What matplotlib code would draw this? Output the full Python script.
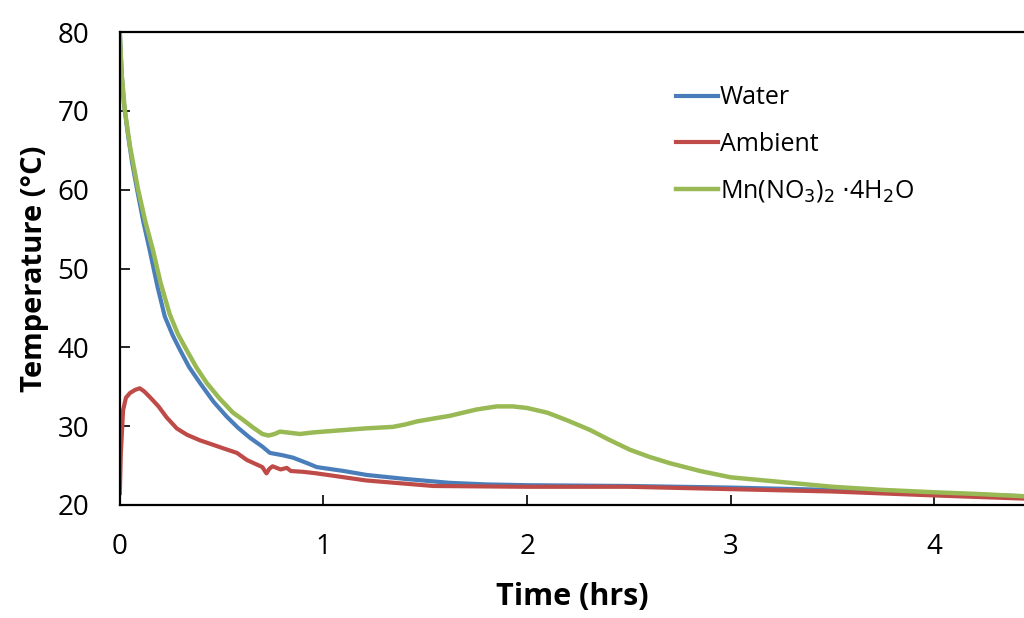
import matplotlib
matplotlib.use("Agg")
import matplotlib.pyplot as plt

plt.rcParams.update({"font.family": ["Open Sans", "DejaVu Sans"], "font.size": 18})

BLUE, RED, GREEN = "#4A7EBB", "#BE4B48", "#98B954"

# cooling curves, temperature (°C) against time (hrs)
water_t = [0.0, 0.01, 0.02, 0.04, 0.06, 0.085, 0.115, 0.147, 0.185, 0.221, 0.26,
           0.295, 0.34, 0.393, 0.46, 0.525, 0.58, 0.64, 0.70, 0.737, 0.80, 0.85,
           0.92, 0.967, 1.1, 1.213, 1.4, 1.62, 1.8, 2.0, 2.5, 3.0, 3.5, 4.0, 4.44]
water_T = [80.0, 74.5, 71.0, 67.0, 63.5, 60.0, 56.0, 52.3, 47.7, 43.9, 41.5,
           39.7, 37.5, 35.5, 33.1, 31.2, 29.8, 28.5, 27.4, 26.6, 26.3, 26.0,
           25.3, 24.8, 24.3, 23.8, 23.3, 22.8, 22.6, 22.5, 22.4, 22.2, 21.9, 21.5, 21.1]

ambient_t = [0.0, 0.005, 0.016, 0.03, 0.05, 0.075, 0.098, 0.12, 0.147, 0.19, 0.23, 0.28,
             0.33, 0.393, 0.45, 0.506, 0.575, 0.624, 0.70, 0.72, 0.735, 0.75, 0.79,
             0.82, 0.84, 0.90, 0.967, 1.21, 1.54, 2.0, 2.5, 3.0, 3.5, 4.0, 4.44]
ambient_T = [21.5, 26.5, 32.0, 33.6, 34.2, 34.6, 34.8, 34.4, 33.7, 32.5, 31.1, 29.7,
             28.9, 28.2, 27.7, 27.2, 26.6, 25.7, 24.8, 24.0, 24.6, 24.9, 24.5,
             24.7, 24.3, 24.2, 24.0, 23.1, 22.4, 22.3, 22.3, 22.0, 21.7, 21.2, 20.8]

salt_t = [0.0, 0.008, 0.025, 0.05, 0.09, 0.125, 0.163, 0.2, 0.245, 0.285, 0.327,
          0.375, 0.426, 0.49, 0.556, 0.6, 0.65, 0.70, 0.73, 0.76, 0.786, 0.82,
          0.884, 0.95, 1.05, 1.2, 1.34, 1.40, 1.46, 1.55, 1.62, 1.685, 1.75, 1.85,
          1.93, 2.0, 2.1, 2.2, 2.31, 2.4, 2.505, 2.6, 2.7, 2.85, 3.0, 3.25, 3.5,
          3.75, 4.0, 4.2, 4.44]
salt_T = [80.0, 75.0, 70.0, 65.5, 60.0, 56.0, 52.3, 48.2, 44.2, 41.7, 39.7,
          37.5, 35.5, 33.5, 31.7, 30.9, 29.9, 29.0, 28.8, 29.0, 29.3, 29.2,
          29.0, 29.2, 29.4, 29.7, 29.9, 30.2, 30.6, 31.0, 31.3, 31.7, 32.1, 32.5,
          32.5, 32.3, 31.7, 30.7, 29.5, 28.3, 27.0, 26.1, 25.3, 24.3, 23.5, 22.9, 22.3,
          21.9, 21.6, 21.4, 21.1]

fig = plt.figure(figsize=(10.24, 6.18), dpi=100)
ax = fig.add_axes([0.117, 0.183, 0.883, 0.765])
ax.plot(water_t, water_T, color=BLUE, lw=3, label="Water")
ax.plot(ambient_t, ambient_T, color=RED, lw=3, label="Ambient")
ax.plot(salt_t, salt_T, color=GREEN, lw=3.2, label=r"Mn(NO$_3$)$_2$ $\cdot$4H$_2$O")

ax.set_xlim(0, 4.44)
ax.set_ylim(20, 80)
ax.set_xticks([0, 1, 2, 3, 4])
ax.set_yticks(range(20, 81, 10))
ax.tick_params(direction="in", length=7, width=1.2, labelsize=20)
ax.tick_params(axis="y", pad=22)
ax.tick_params(axis="x", pad=20)
ax.spines["right"].set_visible(False)
for s in ("left", "bottom", "top"):
    ax.spines[s].set_linewidth(1.6)
ax.set_xlabel("Time (hrs)", fontsize=22, fontweight="bold", labelpad=15)
ax.set_ylabel("Temperature (°C)", fontsize=21, fontweight="bold", labelpad=6)
ax.legend(loc="upper left", bbox_to_anchor=(0.59, 0.935), frameon=False, fontsize=18,
          handlelength=1.7, handletextpad=0.05, labelspacing=0.85)

fig.savefig("out.png", dpi=100)
